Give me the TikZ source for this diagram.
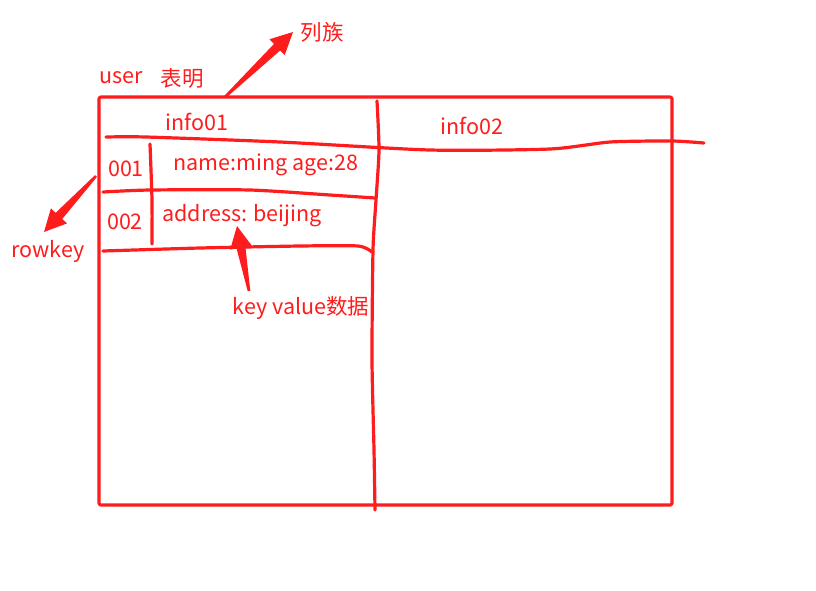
\documentclass[tikz,border=0pt]{standalone}
\usepackage{fontspec}
\setmainfont{Noto Sans CJK SC}
\usetikzlibrary{calc}
\definecolor{pen}{RGB}{255,28,28}
\tikzset{
  ink/.style={draw=pen, line width=3.2pt, line cap=round, line join=round},
  lbl/.style={text=pen, font=\fontsize{21.5}{24}\selectfont, inner sep=0pt, anchor=center},
}
\newcommand{\fatarrow}[2]{%
  \fill[pen] ($(#1)!1.3pt!90:(#2)$)
    -- ($($(#2)!22pt!(#1)$)!4.5pt!-90:(#1)$)
    -- ($($(#2)!22pt!(#1)$)!11pt!-90:(#1)$)
    -- (#2)
    -- ($($(#2)!22pt!(#1)$)!11pt!90:(#1)$)
    -- ($($(#2)!22pt!(#1)$)!4.5pt!90:(#1)$)
    -- ($(#1)!1.3pt!-90:(#2)$) -- cycle;}
\begin{document}
\begin{tikzpicture}[x=1pt,y=-1pt]
\useasboundingbox (0,0) rectangle (816,590);
% outer table
\draw[ink, rounded corners=2pt] (99,97) rectangle (672,505);
% header line (wavy)
\draw[ink] plot[smooth, tension=0.4] coordinates {(106,137) (146,137) (280,142) (430,150) (550,149) (610,142) (672,141) (704,143)};
% middle column separator
\draw[ink] plot[smooth, tension=0.4] coordinates {(377,101) (379,150) (376,200) (373,250) (372,360) (374,450) (375,510)};
% row lines
\draw[ink] plot[smooth, tension=0.4] coordinates {(103,192) (150,190) (250,190) (330,195) (375,198)};
\draw[ink] plot[smooth, tension=0.4] coordinates {(103,251) (200,248) (300,246) (358,246) (372,252)};
% rowkey separator
\draw[ink] plot[smooth, tension=0.4] coordinates {(150,144) (152,200) (152,244)};
% texts
\node[lbl] (user) at (121,78) {user};
\node[lbl] (tname) at (182,78) {表明};
\node[lbl] (cf) at (322,32) {列族};
\node[lbl] (info1) at (197,122) {info01};
\node[lbl] (info2) at (472,126) {info02};
\node[lbl] (r1) at (126,169) {001};
\node[lbl] (r2) at (125,222) {002};
\node[lbl] (kv1) at (266,165) {name:ming age:28};
\node[lbl] (kv2) at (242,216) {address: beijing};
\node[lbl] (rk) at (48,251) {rowkey};
\node[lbl] (kvl) at (301,308) {key value数据};
% arrows
\coordinate (a1t) at (225,97);  \coordinate (a1h) at (293,32);
\coordinate (a2t) at (96,176);  \coordinate (a2h) at (44,232);
\coordinate (a3t) at (249,291); \coordinate (a3h) at (237,226);
\fatarrow{a1t}{a1h}
\fatarrow{a2t}{a2h}
\fatarrow{a3t}{a3h}
\end{tikzpicture}
\end{document}
